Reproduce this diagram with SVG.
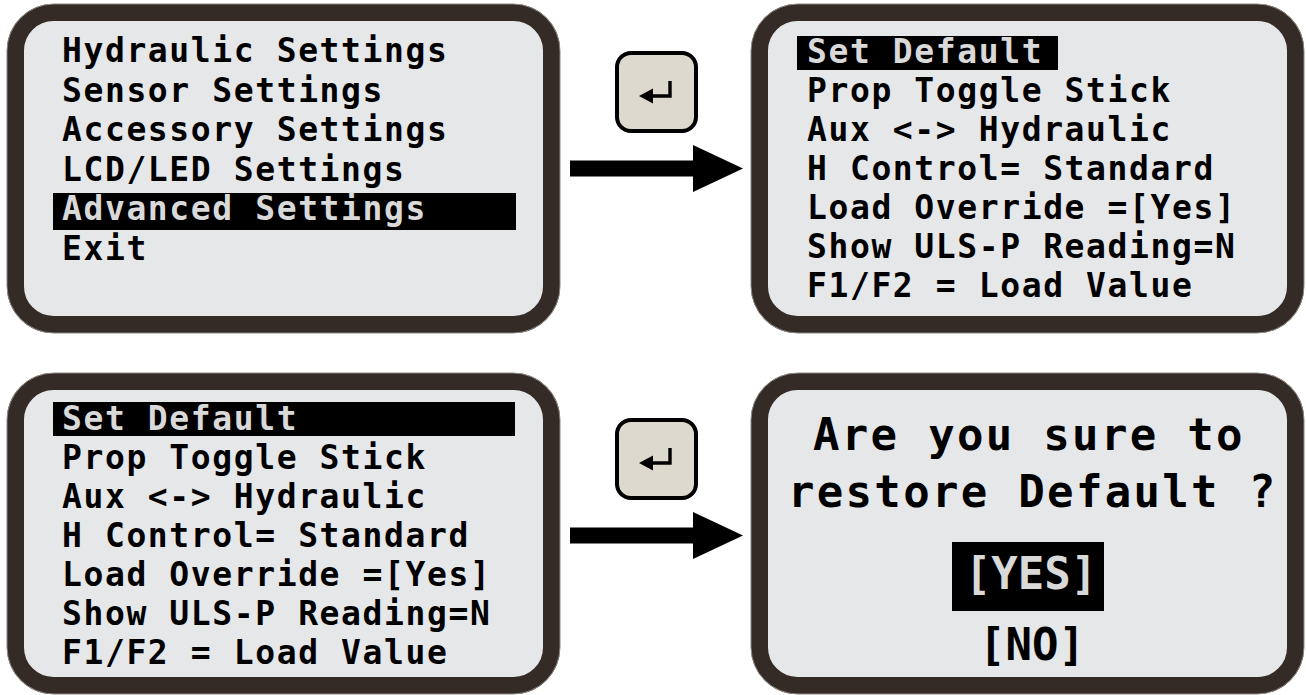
<svg xmlns="http://www.w3.org/2000/svg" width="1306" height="695" viewBox="0 0 1306 695">
<style>
.frame{fill:#e6e7e9;stroke:#342b26;stroke-width:17}
.outline{fill:none;stroke:#8a8683;stroke-width:1}
.t{font-family:"DejaVu Sans Mono","Liberation Mono",monospace;font-weight:bold;font-size:33px;letter-spacing:1.6px;fill:#000}
.big{font-family:"DejaVu Sans Mono","Liberation Mono",monospace;font-weight:bold;font-size:44px;letter-spacing:2.3px;fill:#000}
.hl{fill:#000}
.hlt{fill:#d9d9d9}
.key{fill:#ddd9cf;stroke:#000;stroke-width:4}
.ret{fill:none;stroke:#000;stroke-width:3.4}
</style>
<defs>
<g id="keyicon">
<rect class="key" x="0" y="0" width="79" height="78" rx="14"/>
<polyline class="ret" points="53,28 53,43 32,43"/>
<polygon points="22,43 36,35.5 36,50.5" fill="#000"/>
</g>
<polygon id="bigarrow" points="0,-8 123,-8 123,-23.5 173,0 123,23.5 123,8 0,8" fill="#000"/>
</defs>

<g id="panel-main-menu">
<rect class="frame" x="15.5" y="12.5" width="536" height="312" rx="38"/>
<rect class="outline" x="7" y="4" width="553" height="329" rx="47"/>
<rect class="hl" x="53" y="193" width="463" height="37"/>
<text class="t" x="62" y="62">Hydraulic Settings</text>
<text class="t" x="62" y="101.5">Sensor Settings</text>
<text class="t" x="62" y="141">Accessory Settings</text>
<text class="t" x="62" y="180.5">LCD/LED Settings</text>
<text class="t hlt" x="62" y="220">Advanced Settings</text>
<text class="t" x="62" y="259.5">Exit</text>
</g>

<g id="panel-advanced-1">
<rect class="frame" x="759.5" y="12.5" width="536" height="312" rx="38"/>
<rect class="outline" x="751" y="4" width="553" height="329" rx="47"/>
<rect class="hl" x="797" y="36" width="261" height="34"/>
<text class="t hlt" x="807" y="63">Set Default</text>
<text class="t" x="807" y="102">Prop Toggle Stick</text>
<text class="t" x="807" y="141">Aux &lt;-&gt; Hydraulic</text>
<text class="t" x="807" y="180">H Control= Standard</text>
<text class="t" x="807" y="219">Load Override =[Yes]</text>
<text class="t" x="807" y="258">Show ULS-P Reading=N</text>
<text class="t" x="807" y="297">F1/F2 = Load Value</text>
</g>

<g id="panel-advanced-2">
<rect class="frame" x="15.5" y="381.5" width="536" height="304" rx="38"/>
<rect class="outline" x="7" y="373" width="553" height="321" rx="47"/>
<rect class="hl" x="53" y="402" width="462" height="34"/>
<text class="t hlt" x="62" y="430">Set Default</text>
<text class="t" x="62" y="469">Prop Toggle Stick</text>
<text class="t" x="62" y="508">Aux &lt;-&gt; Hydraulic</text>
<text class="t" x="62" y="547">H Control= Standard</text>
<text class="t" x="62" y="586">Load Override =[Yes]</text>
<text class="t" x="62" y="625">Show ULS-P Reading=N</text>
<text class="t" x="62" y="664">F1/F2 = Load Value</text>
</g>

<g id="panel-confirm">
<rect class="frame" x="759.5" y="381.5" width="536" height="304" rx="38"/>
<rect class="outline" x="751" y="373" width="553" height="321" rx="47"/>
<text class="big" x="813" y="450">Are you sure to</text>
<text class="big" x="788" y="507">restore Default ?</text>
<rect class="hl" x="952" y="542" width="152" height="69"/>
<text class="big hlt" x="1031" y="589" text-anchor="middle" style="letter-spacing:0px">[YES]</text>
<text class="big" x="1032" y="660" text-anchor="middle" style="letter-spacing:0px">[NO]</text>
</g>

<g id="connectors">
<use href="#keyicon" x="617" y="53"/>
<use href="#bigarrow" x="570" y="168.5"/>
<use href="#keyicon" x="617" y="420"/>
<use href="#bigarrow" x="570" y="535.5"/>
</g>
</svg>
